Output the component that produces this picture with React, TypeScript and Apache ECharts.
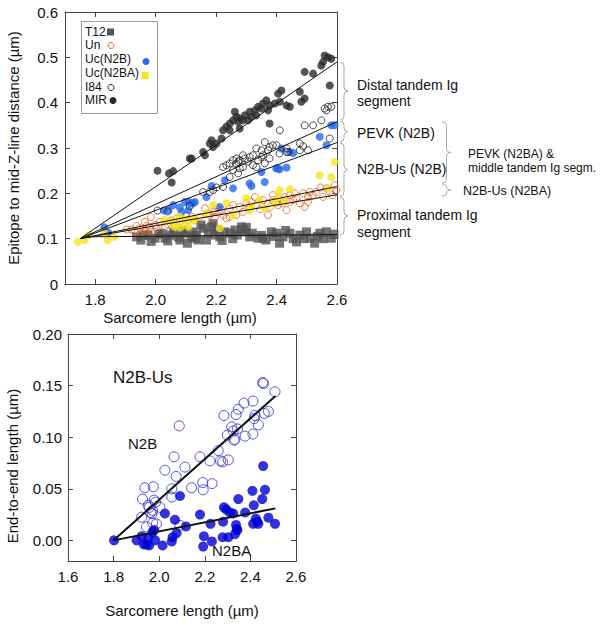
import React, { useEffect, useRef } from "react";
import * as echarts from "echarts";

const FONT = '"Liberation Sans", Arial, sans-serif';

// ---------- Top chart data ----------
const topXTicks = [1.8, 2.0, 2.2, 2.4, 2.6];
const legendNames = ["T12", "Un", "Uc(N2B)", "Uc(N2BA)", "I84", "MIR"];

const t12 = [[1.937,0.104],[1.951,0.097],[1.96,0.108],[1.975,0.108],[1.985,0.094],[1.998,0.101],[2.01,0.11],[2.02,0.112],[2.031,0.101],[2.04,0.095],[2.047,0.108],[2.06,0.114],[2.075,0.104],[2.08,0.097],[2.09,0.118],[2.097,0.112],[2.105,0.09],[2.119,0.104],[2.124,0.115],[2.13,0.101],[2.135,0.108],[2.14,0.097],[2.15,0.13],[2.157,0.123],[2.168,0.097],[2.174,0.112],[2.185,0.126],[2.19,0.133],[2.196,0.108],[2.205,0.12],[2.212,0.104],[2.22,0.096],[2.229,0.115],[2.245,0.112],[2.255,0.1],[2.262,0.119],[2.27,0.108],[2.284,0.126],[2.29,0.12],[2.295,0.115],[2.3,0.125],[2.311,0.104],[2.32,0.112],[2.339,0.101],[2.35,0.107],[2.355,0.101],[2.365,0.097],[2.383,0.115],[2.39,0.105],[2.4,0.112],[2.41,0.09],[2.421,0.104],[2.43,0.118],[2.444,0.112],[2.455,0.1],[2.466,0.093],[2.477,0.108],[2.49,0.1],[2.499,0.115],[2.51,0.101],[2.526,0.09],[2.535,0.105],[2.543,0.112],[2.555,0.1],[2.565,0.115],[2.581,0.101],[2.59,0.11]];

const un = [[1.904,0.12],[1.92,0.12],[1.93,0.115],[1.937,0.128],[1.948,0.123],[1.953,0.113],[1.964,0.137],[1.964,0.119],[1.97,0.128],[1.981,0.126],[1.984,0.148],[1.986,0.115],[1.998,0.13],[2.003,0.123],[2.014,0.137],[2.031,0.126],[2.04,0.132],[2.05,0.14],[2.06,0.13],[2.07,0.145],[2.08,0.138],[2.09,0.135],[2.1,0.15],[2.11,0.142],[2.12,0.148],[2.13,0.14],[2.146,0.148],[2.163,0.167],[2.17,0.155],[2.179,0.152],[2.19,0.16],[2.196,0.159],[2.196,0.148],[2.205,0.168],[2.218,0.163],[2.223,0.152],[2.234,0.145],[2.245,0.148],[2.245,0.167],[2.256,0.174],[2.267,0.152],[2.278,0.17],[2.289,0.159],[2.3,0.178],[2.31,0.168],[2.317,0.181],[2.328,0.192],[2.333,0.174],[2.345,0.165],[2.355,0.185],[2.372,0.178],[2.372,0.152],[2.38,0.17],[2.388,0.185],[2.388,0.196],[2.4,0.18],[2.405,0.174],[2.41,0.189],[2.42,0.178],[2.427,0.192],[2.433,0.163],[2.444,0.196],[2.444,0.181],[2.455,0.185],[2.46,0.2],[2.466,0.189],[2.477,0.178],[2.488,0.2],[2.493,0.17],[2.504,0.192],[2.504,0.181],[2.51,0.203],[2.52,0.195],[2.532,0.203],[2.545,0.213],[2.554,0.192],[2.565,0.211],[2.576,0.203],[2.585,0.196],[2.592,0.218],[2.598,0.207]];

const ucN2B = [[1.83,0.125],[1.843,0.113],[2.028,0.162],[2.042,0.163],[2.058,0.174],[2.08,0.169],[2.086,0.159],[2.097,0.181],[2.108,0.163],[2.11,0.181],[2.119,0.178],[2.124,0.178],[2.13,0.181],[2.168,0.192],[2.185,0.216],[2.212,0.17],[2.229,0.229],[2.256,0.211],[2.311,0.222],[2.317,0.216],[2.35,0.247],[2.361,0.225],[2.399,0.255],[2.405,0.255],[2.41,0.253],[2.416,0.299],[2.433,0.257],[2.444,0.291],[2.455,0.289],[2.543,0.325],[2.565,0.306],[2.581,0.35],[2.592,0.35]];

const ucN2BA = [[1.742,0.093],[1.764,0.097],[1.779,0.108],[1.83,0.112],[1.841,0.097],[1.863,0.104],[2.028,0.141],[2.053,0.141],[2.058,0.135],[2.064,0.126],[2.08,0.148],[2.083,0.125],[2.097,0.141],[2.108,0.126],[2.124,0.141],[2.13,0.145],[2.168,0.156],[2.19,0.174],[2.212,0.123],[2.234,0.178],[2.256,0.152],[2.3,0.189],[2.311,0.163],[2.317,0.17],[2.344,0.185],[2.361,0.167],[2.394,0.178],[2.405,0.192],[2.41,0.207],[2.427,0.182],[2.444,0.209],[2.543,0.24],[2.57,0.211],[2.581,0.236],[2.592,0.269]];

const i84 = [[2.006,0.162],[2.04,0.16],[2.113,0.172],[2.157,0.203],[2.179,0.203],[2.19,0.207],[2.201,0.213],[2.223,0.214],[2.223,0.258],[2.234,0.262],[2.245,0.236],[2.245,0.266],[2.256,0.251],[2.256,0.273],[2.267,0.266],[2.267,0.277],[2.273,0.244],[2.273,0.269],[2.278,0.255],[2.278,0.273],[2.289,0.258],[2.289,0.284],[2.295,0.277],[2.306,0.27],[2.311,0.28],[2.322,0.262],[2.322,0.284],[2.333,0.258],[2.333,0.299],[2.339,0.273],[2.35,0.28],[2.35,0.295],[2.355,0.284],[2.361,0.266],[2.361,0.313],[2.372,0.295],[2.377,0.277],[2.377,0.302],[2.388,0.306],[2.4,0.306],[2.41,0.288],[2.411,0.339],[2.433,0.291],[2.433,0.299],[2.438,0.291],[2.477,0.31],[2.477,0.295],[2.488,0.304],[2.493,0.35],[2.504,0.295],[2.521,0.35],[2.548,0.361],[2.559,0.387],[2.565,0.383],[2.57,0.391],[2.576,0.321],[2.581,0.391]];

const mir = [[2.006,0.25],[2.044,0.244],[2.053,0.224],[2.058,0.249],[2.113,0.277],[2.119,0.277],[2.157,0.291],[2.163,0.284],[2.179,0.31],[2.185,0.317],[2.19,0.302],[2.201,0.31],[2.218,0.321],[2.223,0.339],[2.234,0.347],[2.245,0.354],[2.245,0.339],[2.256,0.361],[2.262,0.38],[2.267,0.369],[2.273,0.358],[2.278,0.365],[2.278,0.343],[2.289,0.361],[2.295,0.372],[2.306,0.361],[2.311,0.38],[2.317,0.369],[2.328,0.383],[2.333,0.372],[2.339,0.391],[2.35,0.387],[2.355,0.398],[2.366,0.405],[2.372,0.383],[2.377,0.354],[2.377,0.394],[2.394,0.398],[2.405,0.42],[2.411,0.402],[2.416,0.427],[2.433,0.394],[2.444,0.391],[2.477,0.424],[2.482,0.402],[2.493,0.409],[2.493,0.468],[2.521,0.464],[2.548,0.482],[2.554,0.49],[2.559,0.504],[2.57,0.5],[2.576,0.438],[2.581,0.497]];

// fit lines (start, end)
const fitMIR = [[1.75,0.1],[2.6,0.49]];
const fitI84 = [[1.75,0.1],[2.6,0.358]];
const fitN2B = [[1.75,0.1],[2.6,0.312]];
const fitN2BA = [[1.75,0.1],[2.6,0.215]];
const fitUn = [[1.75,0.1],[2.6,0.197]];
const fitT12 = [[1.77,0.104],[2.6,0.109]];

// ---------- Bottom chart data ----------
const botYTicks = [0, 0.05, 0.1, 0.15, 0.2];

const n2bOpen = [[1.923,0.0225],[1.927,0.04],[1.937,0.051],[1.944,0.013],[1.952,0.034],[1.956,0.032],[1.962,0.027],[1.969,0.026],[1.971,0.029],[1.974,0.052],[1.978,0.039],[1.984,0.037],[1.988,0.016],[1.971,0.017],[2.003,0.032],[2.025,0.068],[2.055,0.042],[2.055,0.05],[2.065,0.081],[2.074,0.062],[2.088,0.111],[2.091,0.0145],[2.113,0.071],[2.142,0.051],[2.179,0.081],[2.191,0.056],[2.193,0.049],[2.223,0.077],[2.232,0.055],[2.259,0.087],[2.269,0.077],[2.278,0.076],[2.284,0.121],[2.303,0.078],[2.299,0.102],[2.318,0.11],[2.325,0.106],[2.328,0.097],[2.337,0.122],[2.343,0.108],[2.332,0.098],[2.347,0.127],[2.372,0.133],[2.377,0.101],[2.411,0.103],[2.411,0.135],[2.416,0.118],[2.42,0.121],[2.435,0.112],[2.454,0.153],[2.457,0.152],[2.461,0.123],[2.479,0.125],[2.508,0.144]];

const n2baFilled = [[1.802,0],[1.901,0],[1.923,0.004],[1.933,-0.004],[1.944,-0.004],[1.956,-0.005],[1.952,0.003],[1.971,0.008],[1.982,0],[1.978,0.01],[2.015,-0.005],[2.025,0.026],[2.055,-0.001],[2.059,0.003],[2.069,0.02],[2.076,0.007],[2.091,0.043],[2.117,0.0135],[2.179,0.025],[2.193,-0.006],[2.196,0.004],[2.225,0.016],[2.231,-0.001],[2.278,0.003],[2.28,0.018],[2.284,0.032],[2.294,0.03],[2.303,0.003],[2.31,0.027],[2.325,0.026],[2.332,0.006],[2.337,0.015],[2.34,0.011],[2.343,0.01],[2.347,0.04],[2.377,0.027],[2.409,0.048],[2.412,0.016],[2.415,0.034],[2.424,0.021],[2.43,0.018],[2.435,0.016],[2.452,0.04],[2.456,0.072],[2.464,0.049],[2.479,0.022],[2.508,0.016]];

const fitBotN2B = [[1.8,0],[2.51,0.14]];
const fitBotN2BA = [[1.8,0],[2.51,0.031]];

// ---------- Brace shape ----------
const Brace = (echarts as any).graphic.extendShape({
  type: "brace",
  shape: { x: 0, y1: 0, y2: 10, w: 8 },
  buildPath(ctx: any, s: any) {
    const { x, y1, y2, w } = s;
    const m = (y1 + y2) / 2;
    const r = w / 2;
    const k = Math.min(r, (y2 - y1) / 4);
    ctx.moveTo(x, y1);
    ctx.quadraticCurveTo(x + r, y1, x + r, y1 + k);
    ctx.lineTo(x + r, m - k);
    ctx.quadraticCurveTo(x + r, m, x + w, m);
    ctx.moveTo(x + w, m);
    ctx.quadraticCurveTo(x + r, m, x + r, m + k);
    ctx.lineTo(x + r, y2 - k);
    ctx.quadraticCurveTo(x + r, y2, x, y2);
  },
});
(echarts as any).graphic.registerShape("brace", Brace);

const COLORS: Record<string, string> = {
  T12: "#535353",
  Un: "#e8641e",
  "Uc(N2B)": "#2468ee",
  "Uc(N2BA)": "#f8e51a",
  I84: "#222",
  MIR: "#2a2a2a",
};

const axisCommon = {
  axisLine: { show: true, onZero: false, lineStyle: { color: "#444", width: 1 } },
  splitLine: { show: false },
};

function braceEl(x: number, y1: number, y2: number, w = 8) {
  return {
    type: "brace",
    shape: { x, y1, y2, w },
    style: { stroke: "#a8a8a8", fill: "none", lineWidth: 1 },
    silent: true,
  };
}
function txt(x: number, y: number, text: string, size: number, extra: any = {}) {
  return {
    type: "text",
    x,
    y,
    silent: true,
    ...extra,
    style: {
      text,
      fontSize: size,
      fontFamily: FONT,
      fill: "#111",
      verticalAlign: "middle",
      align: "left",
      ...(extra.style || {}),
    },
  };
}

function legendGraphic() {
  const ys = [31.5, 45, 59, 73, 86.5, 100];
  const mx = [110.5, 111, 146, 145, 111, 113];
  const my = [32, 45.5, 61.5, 75.5, 87.5, 100.5];
  const els: any[] = [
    {
      type: "rect",
      shape: { x: 81.5, y: 21.5, width: 76, height: 92 },
      style: { fill: "#fff", stroke: "#9a9a9a", lineWidth: 1 },
      silent: true,
      z: 10,
    },
  ];
  legendNames.forEach((n, i) => {
    els.push({ ...txt(85, ys[i], n, 12), z: 11 });
    const c = COLORS[n];
    if (n === "T12" || n === "Uc(N2BA)") {
      els.push({ type: "rect", z: 11, silent: true, shape: { x: mx[i] - 3.5, y: my[i] - 3.5, width: 7, height: 7 }, style: { fill: c } });
    } else if (n === "Un" || n === "I84") {
      els.push({ type: "circle", z: 11, silent: true, shape: { cx: mx[i], cy: my[i], r: 3 }, style: { fill: "none", stroke: c, lineWidth: 1 } });
    } else {
      els.push({ type: "circle", z: 11, silent: true, shape: { cx: mx[i], cy: my[i], r: 3.5 }, style: { fill: c } });
    }
  });
  return els;
}

export default function App() {
  const ref = useRef<HTMLDivElement>(null);
  useEffect(() => {
    const chart = echarts.init(ref.current!, null, { renderer: "svg" });
    const lab = { fontSize: 15, color: "#111", fontFamily: FONT };
    const lineSeries = (data: number[][], xi: number, yi: number, w: number) => ({
      type: "line",
      xAxisIndex: xi,
      yAxisIndex: yi,
      data,
      symbol: "none",
      silent: true,
      z: 4,
      lineStyle: { color: "#111", width: w },
    });
    chart.setOption({
      animation: false,
      backgroundColor: "#fff",
      textStyle: { fontFamily: FONT },
      grid: [
        { left: 65, top: 12, width: 272, height: 272 },
        { left: 68, top: 334, width: 228, height: 227 },
      ],
      xAxis: [
        {
          ...axisCommon,
          gridIndex: 0,
          type: "value",
          min: 1.7,
          max: 2.6,
          position: "bottom",
          axisTick: { inside: true, length: 5, customValues: topXTicks, lineStyle: { color: "#444" } },
          axisLabel: { ...lab, margin: 8, customValues: topXTicks, formatter: (v: number) => v.toFixed(1) },
        },
        {
          ...axisCommon,
          gridIndex: 0,
          type: "value",
          min: 1.7,
          max: 2.6,
          position: "top",
          axisTick: { inside: true, length: 5, customValues: topXTicks, lineStyle: { color: "#444" } },
          axisLabel: { show: false },
        },
        {
          ...axisCommon,
          gridIndex: 1,
          type: "value",
          min: 1.6,
          max: 2.6,
          interval: 0.2,
          position: "bottom",
          axisTick: { inside: true, length: 5, lineStyle: { color: "#444" } },
          axisLabel: { ...lab, margin: 8, formatter: (v: number) => v.toFixed(1) },
        },
        {
          ...axisCommon,
          gridIndex: 1,
          type: "value",
          min: 1.6,
          max: 2.6,
          interval: 0.2,
          position: "top",
          axisTick: { inside: true, length: 5, lineStyle: { color: "#444" } },
          axisLabel: { show: false },
        },
      ],
      yAxis: [
        {
          ...axisCommon,
          gridIndex: 0,
          type: "value",
          min: 0,
          max: 0.6,
          interval: 0.1,
          position: "left",
          axisTick: { inside: true, length: 5, lineStyle: { color: "#444" } },
          axisLabel: { ...lab, margin: 7, formatter: (v: number) => (v === 0 ? "0" : v.toFixed(1)) },
        },
        {
          ...axisCommon,
          gridIndex: 0,
          type: "value",
          min: 0,
          max: 0.6,
          interval: 0.1,
          position: "right",
          axisTick: { inside: true, length: 5, lineStyle: { color: "#444" } },
          axisLabel: { show: false },
        },
        {
          ...axisCommon,
          gridIndex: 1,
          type: "value",
          min: -0.02,
          max: 0.2,
          position: "left",
          axisTick: { inside: true, length: 5, customValues: botYTicks, lineStyle: { color: "#444" } },
          axisLabel: { ...lab, margin: 6, customValues: botYTicks, formatter: (v: number) => v.toFixed(2) },
        },
        {
          ...axisCommon,
          gridIndex: 1,
          type: "value",
          min: -0.02,
          max: 0.2,
          position: "right",
          axisTick: { inside: true, length: 5, customValues: botYTicks, lineStyle: { color: "#444" } },
          axisLabel: { show: false },
        },
      ],
      series: [
        {
          name: "T12", type: "scatter", xAxisIndex: 0, yAxisIndex: 0, data: t12,
          symbol: "rect", symbolSize: 9, itemStyle: { color: COLORS.T12 },
        },
        {
          name: "Un", type: "scatter", xAxisIndex: 0, yAxisIndex: 0, data: un,
          symbol: "circle", symbolSize: 7,
          itemStyle: { color: "rgba(255,255,255,0)", borderColor: COLORS.Un, borderWidth: 1 },
        },
        {
          name: "Uc(N2B)", type: "scatter", xAxisIndex: 0, yAxisIndex: 0, data: ucN2B,
          symbol: "circle", symbolSize: 8, itemStyle: { color: COLORS["Uc(N2B)"] },
        },
        {
          name: "Uc(N2BA)", type: "scatter", xAxisIndex: 0, yAxisIndex: 0, data: ucN2BA,
          symbol: "circle", symbolSize: 8, itemStyle: { color: COLORS["Uc(N2BA)"] },
        },
        {
          name: "I84", type: "scatter", xAxisIndex: 0, yAxisIndex: 0, data: i84,
          symbol: "circle", symbolSize: 7,
          itemStyle: { color: "rgba(255,255,255,0)", borderColor: COLORS.I84, borderWidth: 1 },
        },
        {
          name: "MIR", type: "scatter", xAxisIndex: 0, yAxisIndex: 0, data: mir,
          symbol: "circle", symbolSize: 8, itemStyle: { color: COLORS.MIR },
        },
        lineSeries(fitMIR, 0, 0, 1),
        lineSeries(fitI84, 0, 0, 1),
        lineSeries(fitN2B, 0, 0, 1),
        lineSeries(fitN2BA, 0, 0, 1),
        lineSeries(fitUn, 0, 0, 1),
        lineSeries(fitT12, 0, 0, 1),
        {
          name: "N2B", type: "scatter", xAxisIndex: 2, yAxisIndex: 2, data: n2bOpen,
          symbol: "circle", symbolSize: 10,
          itemStyle: { color: "rgba(255,255,255,0)", borderColor: "#2b2bdc", borderWidth: 1 },
        },
        {
          name: "N2BA", type: "scatter", xAxisIndex: 2, yAxisIndex: 2, data: n2baFilled,
          symbol: "circle", symbolSize: 10, itemStyle: { color: "#0000d4" },
        },
        lineSeries(fitBotN2B, 2, 2, 2),
        lineSeries(fitBotN2BA, 2, 2, 2),
      ],
      graphic: [
        ...legendGraphic(),
        // axis titles
        txt(13, 148, "Epitope to mid-Z-line distance (µm)", 15, { rotation: Math.PI / 2, style: { align: "center" } }),
        txt(180, 317, "Sarcomere length (µm)", 15, { style: { align: "center" } }),
        txt(12, 466, "End-to-end length (µm)", 15, { rotation: Math.PI / 2, style: { align: "center" } }),
        txt(182, 610, "Sarcomere length (µm)", 15, { style: { align: "center" } }),
        // braces, first level
        braceEl(340, 62, 120),
        braceEl(340, 121, 142),
        braceEl(340, 143, 196),
        braceEl(340, 197, 235),
        txt(357, 85, "Distal tandem Ig", 14),
        txt(357, 101, "segment", 14),
        txt(357, 133, "PEVK (N2B)", 14),
        txt(357, 169, "N2B-Us (N2B)", 14),
        txt(357, 215, "Proximal tandem Ig", 14),
        txt(357, 232, "segment", 14),
        // braces, second level
        braceEl(442, 122, 183, 9),
        braceEl(442, 184, 196, 9),
        txt(468, 154, "PEVK (N2BA) &", 12),
        txt(468, 168, "middle tandem Ig segm.", 12),
        txt(463, 191, "N2B-Us (N2BA)", 12.5),
        // bottom annotations
        txt(113, 377, "N2B-Us", 17),
        txt(128, 443, "N2B", 15),
        txt(212, 550, "N2BA", 15),
      ],
    });
    return () => chart.dispose();
  }, []);
  return (
    <div
      ref={ref}
      style={{ position: "absolute", left: 0, top: 0, width: 602, height: 625, background: "#fff" }}
    />
  );
}
